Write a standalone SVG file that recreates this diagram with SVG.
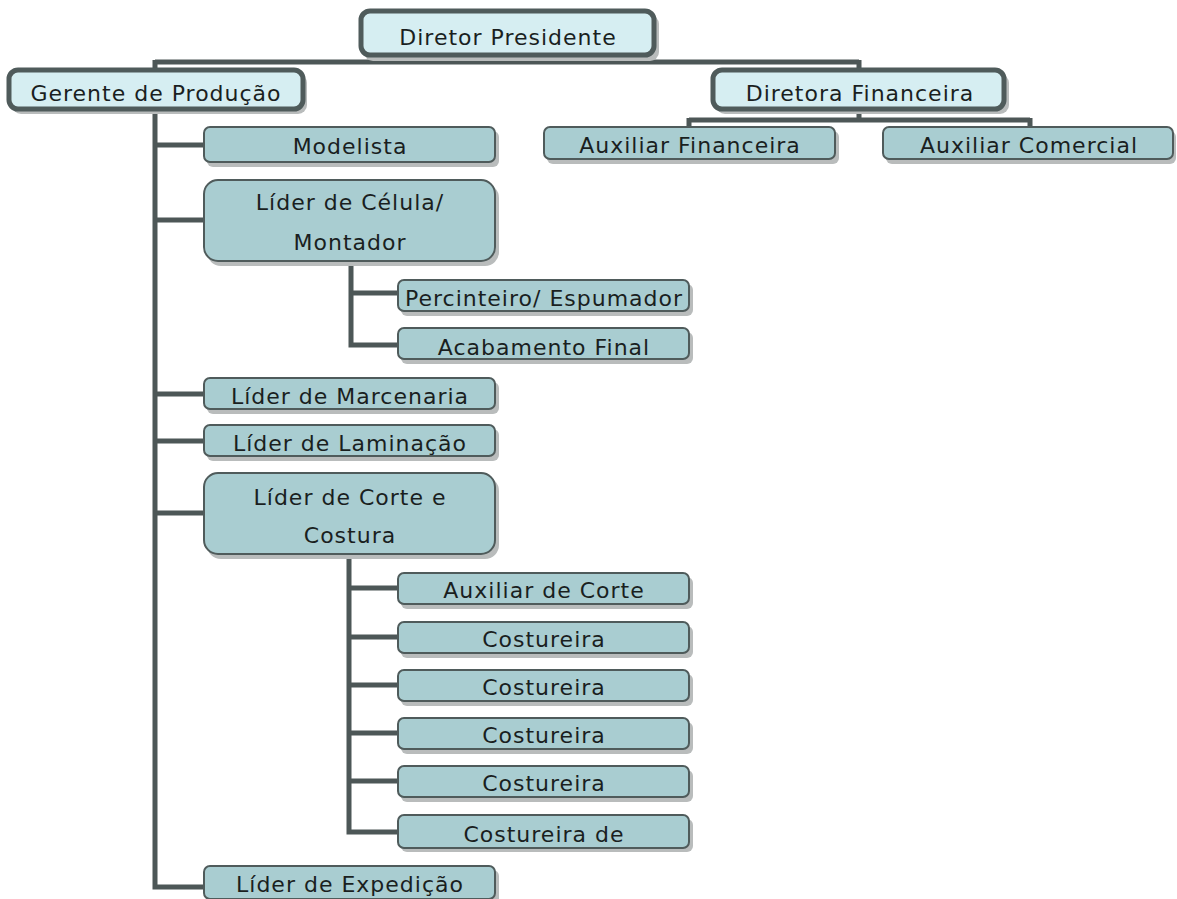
<svg xmlns="http://www.w3.org/2000/svg" width="1177" height="899" viewBox="0 0 1177 899">
<style>
.sh{fill:#b9bcbc}
.bx{fill:#a9cdd1;stroke:#4f5b5b;stroke-width:2}
.tb{fill:#d6eef2;stroke:#4f5b5b;stroke-width:5}
.t{font-family:"DejaVu Sans","Open Sans",sans-serif;font-size:22px;letter-spacing:1px;fill:#1a1f1f;text-anchor:middle}
.c{fill:none;stroke:#4d5757;stroke-width:5}
</style>
<rect width="1177" height="899" fill="#ffffff"/>
<g id="connectors">
<path class="c" d="M155 62 H859 M155 60 V72 M859 60 V72 M507 56 V62"/>
<path class="c" d="M859 110 V120 M689 120 H1030 M689 118 V129 M1030 118 V129"/>
<path class="c" d="M155 108 V887 H206 M155 145 H206 M155 220 H206 M155 394 H206 M155 441 H206 M155 513 H206"/>
<path class="c" d="M351 262 V345 H399 M351 293 H399"/>
<path class="c" d="M349 555 V832 H399 M349 588 H399 M349 637 H399 M349 685 H399 M349 733 H399 M349 781 H399"/>
</g>
<g id="n-presidente"><rect class="sh" x="364" y="15" width="295" height="46" rx="9"/><rect class="tb" x="361" y="11" width="293" height="44" rx="9"/><text class="t" x="508" y="45">Diretor Presidente</text></g>
<g id="n-gerente"><rect class="sh" x="12" y="74" width="295" height="40" rx="9"/><rect class="tb" x="9" y="70" width="294" height="39" rx="9"/><text class="t" x="156" y="101">Gerente de Produção</text></g>
<g id="n-diretora"><rect class="sh" x="716" y="74" width="293" height="40" rx="9"/><rect class="tb" x="713" y="70" width="291" height="39" rx="9"/><text class="t" x="860" y="101">Diretora Financeira</text></g>
<g id="n-aux-fin"><rect class="sh" x="547" y="131" width="292" height="33" rx="6"/><rect class="bx" x="544" y="127" width="291" height="32" rx="6"/><text class="t" x="690" y="153">Auxiliar Financeira</text></g>
<g id="n-aux-com"><rect class="sh" x="886" y="131" width="290" height="33" rx="6"/><rect class="bx" x="883" y="127" width="290" height="32" rx="6"/><text class="t" x="1029" y="153">Auxiliar Comercial</text></g>
<g id="n-modelista"><rect class="sh" x="207" y="131" width="292" height="36" rx="6"/><rect class="bx" x="204" y="127" width="291" height="35" rx="6"/><text class="t" x="350" y="154">Modelista</text></g>
<g id="n-celula"><rect class="sh" x="207" y="184" width="292" height="82" rx="14"/><rect class="bx" x="204" y="180" width="291" height="81" rx="14"/><text class="t" x="350" y="210">Líder de Célula/</text><text class="t" x="350" y="250">Montador</text></g>
<g id="n-percinteiro"><rect class="sh" x="401" y="284" width="292" height="32" rx="6"/><rect class="bx" x="398" y="280" width="291" height="31" rx="6"/><text class="t" x="544" y="306">Percinteiro/ Espumador</text></g>
<g id="n-acabamento"><rect class="sh" x="401" y="332" width="292" height="32" rx="6"/><rect class="bx" x="398" y="328" width="291" height="31" rx="6"/><text class="t" x="544" y="355">Acabamento Final</text></g>
<g id="n-marcenaria"><rect class="sh" x="207" y="382" width="292" height="32" rx="6"/><rect class="bx" x="204" y="378" width="291" height="31" rx="6"/><text class="t" x="350" y="404">Líder de Marcenaria</text></g>
<g id="n-laminacao"><rect class="sh" x="207" y="429" width="292" height="32" rx="6"/><rect class="bx" x="204" y="425" width="291" height="31" rx="6"/><text class="t" x="350" y="451">Líder de Laminação</text></g>
<g id="n-corte"><rect class="sh" x="207" y="477" width="292" height="82" rx="14"/><rect class="bx" x="204" y="473" width="291" height="81" rx="14"/><text class="t" x="350" y="505">Líder de Corte e</text><text class="t" x="350" y="543">Costura</text></g>
<g id="n-aux-corte"><rect class="sh" x="401" y="577" width="292" height="32" rx="6"/><rect class="bx" x="398" y="573" width="291" height="31" rx="6"/><text class="t" x="544" y="598">Auxiliar de Corte</text></g>
<g id="n-cost1"><rect class="sh" x="401" y="626" width="292" height="32" rx="6"/><rect class="bx" x="398" y="622" width="291" height="31" rx="6"/><text class="t" x="544" y="647">Costureira</text></g>
<g id="n-cost2"><rect class="sh" x="401" y="674" width="292" height="32" rx="6"/><rect class="bx" x="398" y="670" width="291" height="31" rx="6"/><text class="t" x="544" y="695">Costureira</text></g>
<g id="n-cost3"><rect class="sh" x="401" y="722" width="292" height="32" rx="6"/><rect class="bx" x="398" y="718" width="291" height="31" rx="6"/><text class="t" x="544" y="743">Costureira</text></g>
<g id="n-cost4"><rect class="sh" x="401" y="770" width="292" height="32" rx="6"/><rect class="bx" x="398" y="766" width="291" height="31" rx="6"/><text class="t" x="544" y="791">Costureira</text></g>
<g id="n-cost-de"><rect class="sh" x="401" y="819" width="292" height="33" rx="6"/><rect class="bx" x="398" y="815" width="291" height="33" rx="6"/><text class="t" x="544" y="842">Costureira de</text></g>
<g id="n-expedicao"><rect class="sh" x="207" y="870" width="292" height="34" rx="6"/><rect class="bx" x="204" y="866" width="291" height="33" rx="6"/><text class="t" x="350" y="892">Líder de Expedição</text></g>
</svg>
